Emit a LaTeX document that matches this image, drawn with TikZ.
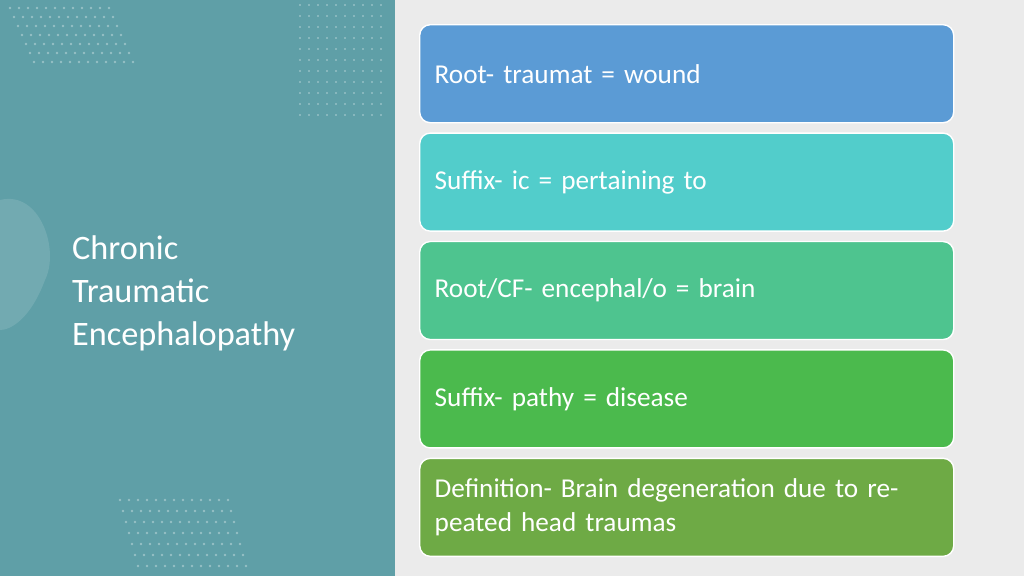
\documentclass[tikz,border=0pt]{standalone}
\usepackage{fontspec}
\setmainfont{Carlito}
\usetikzlibrary{positioning}
\definecolor{panel}{HTML}{5F9FA7}
\definecolor{back}{HTML}{EBEBEB}
\definecolor{cA}{HTML}{5B9BD5}
\definecolor{cB}{HTML}{52CDCB}
\definecolor{cC}{HTML}{4EC48F}
\definecolor{cD}{HTML}{4BBA4D}
\definecolor{cE}{HTML}{6EAA45}
\tikzset{
  termbox/.style={draw=white, line width=0.8pt, rounded corners=6pt, minimum width=534*0.02cm,
    minimum height=98*0.02cm, text width=504*0.02cm, inner xsep=15*0.02cm, align=left,
    text=white, font=\fontsize{15.5}{19}\selectfont, anchor=north west},
  dot/.style={fill=white, opacity=0.35}
}
\begin{document}
\begin{tikzpicture}[x=0.02cm, y=-0.02cm]
	\useasboundingbox (0,0) rectangle (1024,576);
	\fill[back] (0,0) rectangle (1024,576);
	\fill[panel] (0,0) rectangle (395,576);
	% soft blob on the left edge
	\fill[white, opacity=0.12] (0,200) .. controls (40,190) and (60,250) .. (45,280) .. controls (30,320) and (10,330) .. (0,330) -- cycle;
	% dotted patches
	\foreach \i in {0,...,11}
	  \foreach \j in {0,...,6}
	    \fill[dot] (10+\i*9+\j*4, 8+\j*9) circle [radius=1.3];
	\foreach \i in {0,...,9}
	  \foreach \j in {0,...,10}
	    \fill[dot] (300+\i*9, 5+\j*11) circle [radius=1.2];
	\foreach \i in {0,...,12}
	  \foreach \j in {0,...,6}
	    \fill[dot] (120+\i*9+\j*3, 500+\j*11) circle [radius=1.3];

	\node[text=white, font=\fontsize{19.5}{24.5}\selectfont, align=left, anchor=west] (title) at (66,293)
	  {Chronic\\Traumatic\\Encephalopathy};

	\node[termbox, fill=cA] (root) at (419,24) {Root- traumat = wound};
	\node[termbox, fill=cB, below=9*0.02cm of root.south west, anchor=north west] (suffix) {Suffix- ic = pertaining to};
	\node[termbox, fill=cC, below=9*0.02cm of suffix.south west, anchor=north west] (cf) {Root/CF- encephal/o = brain};
	\node[termbox, fill=cD, below=9*0.02cm of cf.south west, anchor=north west] (pathy) {Suffix- pathy = disease};
	\node[termbox, fill=cE, below=9*0.02cm of pathy.south west, anchor=north west] (defn) {Definition- Brain degeneration due to repeated head traumas};
\end{tikzpicture}
\end{document}
